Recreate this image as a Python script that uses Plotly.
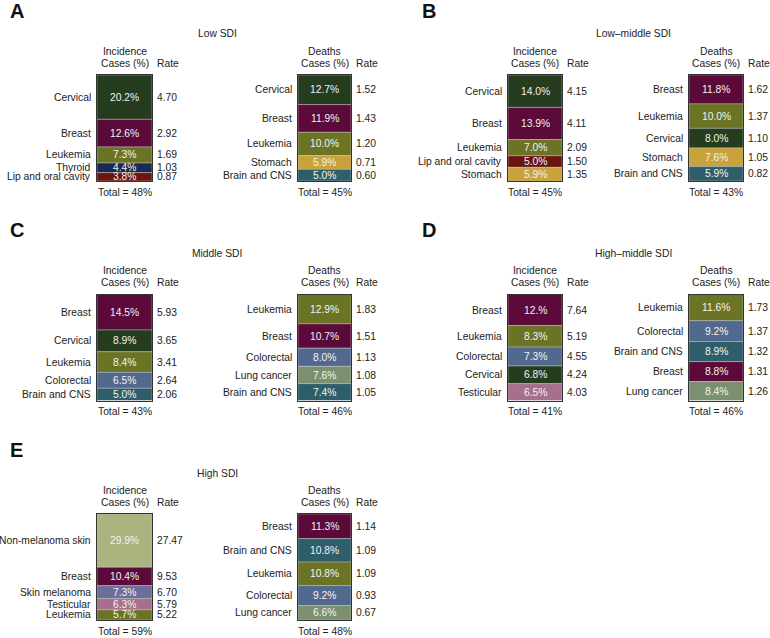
import plotly.graph_objects as go

W, H = 770, 638
FONT = "Liberation Sans, Arial, sans-serif"
FS = 10.3

# ---------------- data ----------------
cause_colors = {
    "Cervical": "#253d1e",
    "Breast": "#5b0a3a",
    "Leukemia": "#6b7424",
    "Thyroid": "#1b2a55",
    "Lip and oral cavity": "#6a1510",
    "Stomach": "#c8a23a",
    "Brain and CNS": "#2f5e6b",
    "Colorectal": "#52698f",
    "Lung cancer": "#7a9070",
    "Testicular": "#a66f8c",
    "Non-melanoma skin": "#a9b47e",
    "Skin melanoma": "#6b6f9a",
}

# A: Low SDI
a_title = "Low SDI"
a_inc_causes = ["Cervical", "Breast", "Leukemia", "Thyroid", "Lip and oral cavity"]
a_inc_pct = ["20.2%", "12.6%", "7.3%", "4.4%", "3.8%"]
a_inc_rate = [4.70, 2.92, 1.69, 1.03, 0.87]
a_inc_total = 48
a_dth_causes = ["Cervical", "Breast", "Leukemia", "Stomach", "Brain and CNS"]
a_dth_pct = ["12.7%", "11.9%", "10.0%", "5.9%", "5.0%"]
a_dth_rate = [1.52, 1.43, 1.20, 0.71, 0.60]
a_dth_total = 45

# B: Low-middle SDI
b_title = "Low–middle SDI"
b_inc_causes = ["Cervical", "Breast", "Leukemia", "Lip and oral cavity", "Stomach"]
b_inc_pct = ["14.0%", "13.9%", "7.0%", "5.0%", "5.9%"]
b_inc_rate = [4.15, 4.11, 2.09, 1.50, 1.35]
b_inc_total = 45
b_dth_causes = ["Breast", "Leukemia", "Cervical", "Stomach", "Brain and CNS"]
b_dth_pct = ["11.8%", "10.0%", "8.0%", "7.6%", "5.9%"]
b_dth_rate = [1.62, 1.37, 1.10, 1.05, 0.82]
b_dth_total = 43

# C: Middle SDI
c_title = "Middle SDI"
c_inc_causes = ["Breast", "Cervical", "Leukemia", "Colorectal", "Brain and CNS"]
c_inc_pct = ["14.5%", "8.9%", "8.4%", "6.5%", "5.0%"]
c_inc_rate = [5.93, 3.65, 3.41, 2.64, 2.06]
c_inc_total = 43
c_dth_causes = ["Leukemia", "Breast", "Colorectal", "Lung cancer", "Brain and CNS"]
c_dth_pct = ["12.9%", "10.7%", "8.0%", "7.6%", "7.4%"]
c_dth_rate = [1.83, 1.51, 1.13, 1.08, 1.05]
c_dth_total = 46

# D: High-middle SDI
d_title = "High–middle SDI"
d_inc_causes = ["Breast", "Leukemia", "Colorectal", "Cervical", "Testicular"]
d_inc_pct = ["12.%", "8.3%", "7.3%", "6.8%", "6.5%"]
d_inc_rate = [7.64, 5.19, 4.55, 4.24, 4.03]
d_inc_total = 41
d_dth_causes = ["Leukemia", "Colorectal", "Brain and CNS", "Breast", "Lung cancer"]
d_dth_pct = ["11.6%", "9.2%", "8.9%", "8.8%", "8.4%"]
d_dth_rate = [1.73, 1.37, 1.32, 1.31, 1.26]
d_dth_total = 46

# E: High SDI
e_title = "High SDI"
e_inc_causes = ["Non-melanoma skin", "Breast", "Skin melanoma", "Testicular", "Leukemia"]
e_inc_pct = ["29.9%", "10.4%", "7.3%", "6.3%", "5.7%"]
e_inc_rate = [27.47, 9.53, 6.70, 5.79, 5.22]
e_inc_total = 59
e_dth_causes = ["Breast", "Brain and CNS", "Leukemia", "Colorectal", "Lung cancer"]
e_dth_pct = ["11.3%", "10.8%", "10.8%", "9.2%", "6.6%"]
e_dth_rate = [1.14, 1.09, 1.09, 0.93, 0.67]
e_dth_total = 48

panels = [
    ("A", a_title, 0, 0,
     (a_inc_causes, a_inc_pct, a_inc_rate, a_inc_total),
     (a_dth_causes, a_dth_pct, a_dth_rate, a_dth_total)),
    ("B", b_title, 0, 1,
     (b_inc_causes, b_inc_pct, b_inc_rate, b_inc_total),
     (b_dth_causes, b_dth_pct, b_dth_rate, b_dth_total)),
    ("C", c_title, 1, 0,
     (c_inc_causes, c_inc_pct, c_inc_rate, c_inc_total),
     (c_dth_causes, c_dth_pct, c_dth_rate, c_dth_total)),
    ("D", d_title, 1, 1,
     (d_inc_causes, d_inc_pct, d_inc_rate, d_inc_total),
     (d_dth_causes, d_dth_pct, d_dth_rate, d_dth_total)),
    ("E", e_title, 2, 0,
     (e_inc_causes, e_inc_pct, e_inc_rate, e_inc_total),
     (e_dth_causes, e_dth_pct, e_dth_rate, e_dth_total)),
]

# ---------------- geometry (pixels) ----------------
col_geo = {
    0: dict(inc=(97, 152), dth=(298, 351), title_x=217, letter_x=8),
    1: dict(inc=(508, 562), dth=(689, 743), title_x=633, letter_x=420),
}
row_dy = [0, 219.5, 439]
BOX_TOP, BOX_BOT = 75, 181


def px_x(x):
    return x / W


def px_y(y):
    return 1 - y / H


fig = go.Figure()
layout = dict(
    width=W, height=H,
    margin=dict(l=0, r=0, t=0, b=0),
    paper_bgcolor="white", plot_bgcolor="white",
    showlegend=False, barmode="overlay",
    font=dict(family=FONT, size=FS, color="#222222"),
)
annotations = []
TXT = "#222222"

k = 0
for letter, title, row, col, inc, dth in panels:
    g = col_geo[col]
    dy = row_dy[row]
    # panel letter
    annotations.append(dict(
        text="<b>%s</b>" % letter, xref="paper", yref="paper",
        x=px_x(g["letter_x"]), y=px_y(11 + dy), xanchor="left", yanchor="middle",
        showarrow=False, font=dict(size=20, color="#111111", family=FONT)))
    # title
    annotations.append(dict(
        text=title, xref="paper", yref="paper",
        x=px_x(g["title_x"]), y=px_y(34 + dy), xanchor="center", yanchor="middle",
        showarrow=False, font=dict(size=FS, color=TXT)))
    for kind, (causes, pcts, rates, total) in (("inc", inc), ("dth", dth)):
        k += 1
        xa = "xaxis" if k == 1 else "xaxis%d" % k
        ya = "yaxis" if k == 1 else "yaxis%d" % k
        xr = "x" if k == 1 else "x%d" % k
        yr = "y" if k == 1 else "y%d" % k
        x0, x1 = g[kind]
        vals = [float(p.rstrip("%")) for p in pcts]
        s = sum(vals)
        starts = []
        acc = 0.0
        for v in vals:
            starts.append(acc)
            acc += v
        fig.add_trace(go.Bar(
            x=[0] * len(vals), y=vals, base=starts, width=1.0,
            marker=dict(color=[cause_colors[c] for c in causes],
                        line=dict(color="rgba(200,200,200,0.55)", width=0.8)),
            hoverinfo="skip", xaxis=xr, yaxis=yr))
        axline = dict(showgrid=False, zeroline=False, showticklabels=False,
                      ticks="", showline=True, mirror=True,
                      linecolor="#333333", linewidth=1, fixedrange=True)
        layout[xa] = dict(domain=[px_x(x0), px_x(x1)], range=[-0.5, 0.5],
                          anchor=yr, **axline)
        layout[ya] = dict(domain=[px_y(BOX_BOT + dy), px_y(BOX_TOP + dy)],
                          range=[s, 0], anchor=xr, **axline)
        for c, p, r, st, v in zip(causes, pcts, rates, starts, vals):
            mid = st + v / 2
            annotations.append(dict(
                text=c, xref="%s domain" % xr, yref=yr, x=0, y=mid,
                xanchor="right", yanchor="middle", xshift=-4, showarrow=False,
                font=dict(size=FS, color=TXT)))
            annotations.append(dict(
                text=p, xref=xr, yref=yr, x=0, y=mid,
                xanchor="center", yanchor="middle", showarrow=False,
                font=dict(size=FS, color="#f2f2f2")))
            annotations.append(dict(
                text="%.2f" % r, xref="%s domain" % xr, yref=yr, x=1, y=mid,
                xanchor="left", yanchor="middle", xshift=3, showarrow=False,
                font=dict(size=FS, color=TXT)))
        head = "Incidence" if kind == "inc" else "Deaths"
        annotations.append(dict(
            text=head, xref="%s domain" % xr, yref="%s domain" % yr, x=0.5, y=1,
            xanchor="center", yanchor="middle", yshift=24, showarrow=False,
            font=dict(size=FS, color=TXT)))
        annotations.append(dict(
            text="Cases (%)", xref="%s domain" % xr, yref="%s domain" % yr, x=0.5, y=1,
            xanchor="center", yanchor="middle", yshift=12, showarrow=False,
            font=dict(size=FS, color=TXT)))
        annotations.append(dict(
            text="Rate", xref="%s domain" % xr, yref="%s domain" % yr, x=1, y=1,
            xanchor="left", yanchor="middle", xshift=3, yshift=12, showarrow=False,
            font=dict(size=FS, color=TXT)))
        annotations.append(dict(
            text="Total = %d%%" % total, xref="%s domain" % xr,
            yref="%s domain" % yr, x=0.5, y=0,
            xanchor="center", yanchor="middle", yshift=-11, showarrow=False,
            font=dict(size=FS, color=TXT)))

layout["annotations"] = annotations
fig.update_layout(**layout)
fig.write_html("out.html",
               config={"displayModeBar": False},
               post_script="document.body.style.margin='0';document.body.style.overflow='hidden';")
